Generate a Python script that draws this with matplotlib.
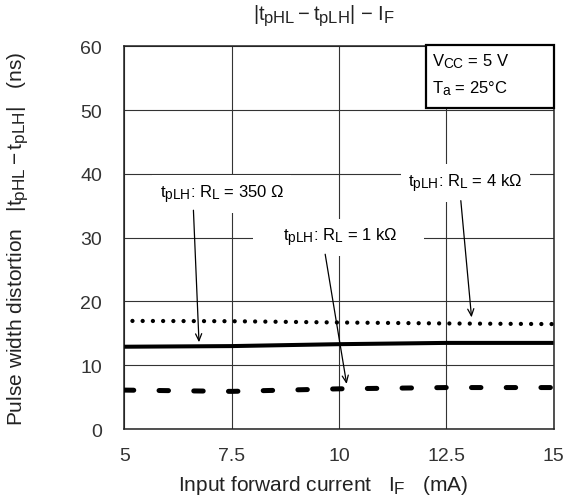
import matplotlib as mpl
mpl.use('Agg')
import matplotlib.pyplot as plt
import matplotlib._mathtext as mathtext_internals
from matplotlib.patches import Rectangle

# data
IF_MA = [5, 7.5, 10, 12.5, 15]
RL_350 = [12.9, 13.0, 13.3, 13.5, 13.5]
RL_1K = [6.1, 5.9, 6.3, 6.5, 6.5]
RL_4K = [16.95, 16.9, 16.7, 16.55, 16.45]

X_TICKS = [5, 7.5, 10, 12.5, 15]
X_TICK_LABELS = ['5', '7.5', '10', '12.5', '15']
Y_TICKS = [0, 10, 20, 30, 40, 50, 60]

# label text, label position, arrow tail, arrow tip
NOTES = [
    (r'$t_{\mathrm{pLH}}$: $R_{\mathrm{L}}$ = 350 Ω', (7.27, 36.85), (6.61, 34.3), (6.74, 13.6)),
    (r'     $t_{\mathrm{pLH}}$: $R_{\mathrm{L}}$ = 1 kΩ     ', (9.99, 30.06), (9.68, 27.4), (10.18, 7.06)),
    (r'$t_{\mathrm{pLH}}$: $R_{\mathrm{L}}$ = 4 kΩ', (12.95, 38.57), (12.84, 35.8), (13.09, 17.5)),
]

TITLE = r'$|t_{\mathrm{pHL}} - t_{\mathrm{pLH}}|$ $-$ $I_{\mathrm{F}}$'
X_LABEL = r'Input forward current   $I_{\mathrm{F}}$   (mA)'
Y_LABEL = r'Pulse width distortion   $|t_{\mathrm{pHL}} - t_{\mathrm{pLH}}|$   (ns)'

# subscripts in the original are only a little smaller than the base text
mathtext_internals.SHRINK_FACTOR = 0.82

plt.rcParams['font.family'] = ['Liberation Sans', 'DejaVu Sans']
plt.rcParams['mathtext.fontset'] = 'custom'
plt.rcParams['mathtext.rm'] = 'Liberation Sans'
plt.rcParams['mathtext.it'] = 'Liberation Sans'
plt.rcParams['mathtext.bf'] = 'Liberation Sans:bold'
plt.rcParams['lines.scale_dashes'] = False

fig = plt.figure(figsize=(5.7, 5.02), dpi=100)
ax = fig.add_axes([0.2181, 0.1434, 0.7530, 0.7624])

ax.plot(IF_MA, RL_350, color='black', lw=2.9, solid_capstyle='butt', zorder=4)
ax.plot(IF_MA, RL_1K, color='black', lw=3.6, linestyle=(0, (6.8, 18.2)),
        dash_capstyle='round', zorder=4)
ax.plot(IF_MA, RL_4K, color='black', lw=3.1, linestyle=(1.5, (0.01, 7.35)),
        dash_capstyle='round', zorder=4)

ax.set_xlim(5, 15)
ax.set_ylim(0, 60)
ax.set_xticks(X_TICKS)
ax.set_xticklabels(X_TICK_LABELS)
ax.set_yticks(Y_TICKS)
ax.tick_params(axis='both', length=0, labelsize=14, labelcolor='#333333')
ax.tick_params(axis='x', pad=13)
ax.tick_params(axis='y', pad=16)
ax.grid(True, color='#333333', lw=0.8)
ax.set_axisbelow(True)
for s in ax.spines.values():
    s.set_linewidth(1.1)
    s.set_color('#222222')

# condition box in the upper right corner
ax.add_patch(Rectangle((0.703, 0.838), 0.297, 0.165, transform=ax.transAxes,
                       facecolor='white', edgecolor='black', lw=1.6,
                       zorder=5, clip_on=False))
ax.text(0.716, 0.962, r'$V_{\mathrm{CC}}$ = 5 V', transform=ax.transAxes,
        fontsize=12, ha='left', va='center', zorder=6)
ax.text(0.716, 0.893, r'$T_{\mathrm{a}}$ = 25°C', transform=ax.transAxes,
        fontsize=12, ha='left', va='center', zorder=6)

for label, pos, tail, tip in NOTES:
    ax.text(pos[0], pos[1], label, fontsize=12, ha='center', va='center', zorder=6,
            bbox=dict(boxstyle='square,pad=0.45', facecolor='white', edgecolor='none'))
    ax.annotate('', xy=tip, xytext=tail, zorder=6,
                arrowprops=dict(arrowstyle='->,head_length=0.5,head_width=0.22',
                                color='black', lw=0.9, shrinkA=0, shrinkB=0))

ax.set_title(TITLE, fontsize=14.5, x=0.465, y=1.058, va='center', color='#222222')
ax.set_xlabel(X_LABEL, fontsize=15, color='#222222')
ax.xaxis.label.set_verticalalignment('center')
ax.xaxis.set_label_coords(0.462, -0.144)
ax.set_ylabel(Y_LABEL, fontsize=15, color='#222222')
ax.yaxis.label.set_verticalalignment('center')
ax.yaxis.set_label_coords(-0.2477, 0.5)

fig.savefig('out.png', dpi=100)
